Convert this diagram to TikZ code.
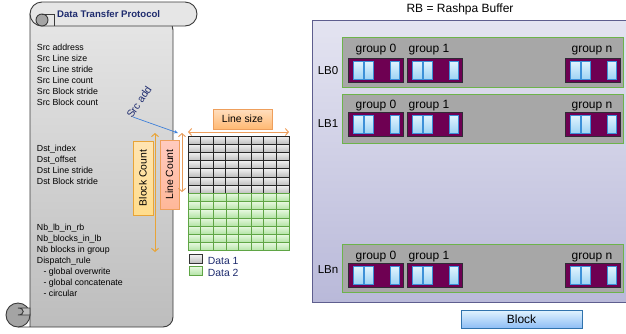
\documentclass[tikz,border=0pt]{standalone}
\usepackage{fontspec}
\setmainfont{Liberation Sans}
\usetikzlibrary{arrows.meta}

\definecolor{navy}{HTML}{1E2B6E}
\definecolor{scrollTop}{HTML}{E6E6E6}
\definecolor{scrollBot}{HTML}{BDBDBD}
\definecolor{scrollEdge}{HTML}{3A3A3A}
\definecolor{curlFill}{HTML}{A4A4A4}
\definecolor{sizeOrange}{HTML}{EE9F5C}
\definecolor{countOrange}{HTML}{E8A437}
\definecolor{srcBlue}{HTML}{3D7FD8}
\definecolor{rbTop}{HTML}{E4E4F1}
\definecolor{rbBot}{HTML}{B9B9D9}
\definecolor{rbEdge}{HTML}{5E5E8E}
\definecolor{lbFill}{HTML}{A7A7A7}
\definecolor{lbEdge}{HTML}{6DB34B}
\definecolor{grpFill}{HTML}{6E0052}
\definecolor{grpEdge}{HTML}{302A36}
\definecolor{cellEdge}{HTML}{3C90D8}
\definecolor{cellTop}{HTML}{E2F4FE}
\definecolor{cellBot}{HTML}{9ED3F4}
\definecolor{greyTop}{HTML}{F0F0F0}
\definecolor{greyBot}{HTML}{BEBEBE}
\definecolor{greenTop}{HTML}{E6F8DF}
\definecolor{greenBot}{HTML}{B2E3A4}
\definecolor{greenEdge}{HTML}{5FA545}

\newcommand\fsz[1]{\fontsize{#1}{#1}\selectfont}

\tikzset{
  item/.style={anchor=base west, inner sep=0pt, font=\fsz{8.8}},
  tagbox/.style={draw, inner sep=0pt, font=\fsz{10.4}},
  grouplbl/.style={anchor=base, inner sep=0pt, font=\fsz{12}},
  lblbl/.style={anchor=center, inner sep=0pt, font=\fsz{11.5}},
  scrollline/.style={draw=scrollEdge, line width=0.9pt},
  dimarrow/.style={{Straight Barb[length=3pt,width=7pt]}-{Straight Barb[length=3pt,width=7pt]}, line width=1pt},
}

\begin{document}
\begin{tikzpicture}[x=1pt,y=-1pt]
\useasboundingbox (0,0) rectangle (626,333);

% ---------------- scroll ----------------
% body sheet
\path[scrollline, top color=scrollTop, bottom color=scrollBot]
  (30,14) -- (30,327) -- (18,327) [rounded corners=10] -- (173,327) -- (173,20) [sharp corners] -- cycle;
% top roll
\path[scrollline, fill=scrollTop, rounded corners=12]
  (30,2) rectangle (197,26);
% top curl: small inner disc and the spiral line
\path[scrollline, fill=curlFill] (42,20) circle[radius=6];
\draw[scrollline] (42,14) -- (54,14) -- (54,26);
% bottom roll with its curl
\path[scrollline, fill=curlFill] (18,315) circle[radius=12];
\path[scrollline, fill=scrollBot] (18,308) .. controls (25,308) and (25,315) .. (18,315) -- (30,315) -- (30,308) -- cycle;

\node[anchor=base west, inner sep=0pt, font=\bfseries\fsz{9.6}, text=navy] (title) at (57,17.5) {Data Transfer Protocol};

% source parameters
\node[item] (s1) at (36.7,50.5) {Src address};
\node[item] (s2) at (36.7,61.5) {Src Line size};
\node[item] (s3) at (36.7,72.5) {Src Line stride};
\node[item] (s4) at (36.7,83.5) {Src Line count};
\node[item] (s5) at (36.7,94.5) {Src Block stride};
\node[item] (s6) at (36.7,105.5) {Src Block count};
% destination parameters
\node[item] (d1) at (36.7,151.7) {Dst\_index};
\node[item] (d2) at (36.7,162.7) {Dst\_offset};
\node[item] (d3) at (36.7,173.7) {Dst Line stride};
\node[item] (d4) at (36.7,184.6) {Dst Block stride};
% buffer layout parameters
\node[item] (n1) at (36.7,230.7) {Nb\_lb\_in\_rb};
\node[item] (n2) at (36.7,241.7) {Nb\_blocks\_in\_lb};
\node[item] (n3) at (36.7,252.6) {Nb blocks in group};
\node[item] (n4) at (36.7,263.6) {Dispatch\_rule};
\node[item] (r1) at (43.3,274.6) {- global overwrite};
\node[item] (r2) at (43.3,285.6) {- global concatenate};
\node[item] (r3) at (43.3,296.6) {- circular};

% ---------------- data grid ----------------
\foreach \c in {0,...,7} {
  \foreach \r in {0,...,6} {
    \path[top color=greyTop, bottom color=greyBot] ({188+\c*12.625},{136+\r*8.2}) rectangle +(12.625,8.2);
    \path[top color=greenTop, bottom color=greenBot] ({188+\c*12.625},{193.4+\r*8.2}) rectangle +(12.625,8.2);
  }
}
\foreach \c in {1,...,7}
  \draw[greenEdge, line width=0.7pt] ({188+\c*12.625},193.4) -- ({188+\c*12.625},250.8);
\foreach \r in {1,...,6}
  \draw[greenEdge, line width=0.7pt] (188,{193.4+\r*8.2}) -- (289,{193.4+\r*8.2});
\draw[greenEdge, line width=0.9pt] (188,193.4) rectangle (289,250.8);
\foreach \c in {1,...,7}
  \draw[black!85, line width=0.8pt] ({188+\c*12.625},136) -- ({188+\c*12.625},193.4);
\foreach \r in {1,...,6}
  \draw[black!85, line width=0.8pt] (188,{136+\r*8.2}) -- (289,{136+\r*8.2});
\draw[black!85, line width=0.9pt] (188,193.4) -- (188,136) -- (289,136) -- (289,193.4);
\node[inner sep=0pt, minimum width=101pt, minimum height=114.8pt, anchor=north west] (grid) at (188,136) {};

% legend
\node[draw=black!80, line width=0.8pt, top color=greyTop, bottom color=greyBot, minimum width=13pt, minimum height=8.5pt, inner sep=0pt] (k1) at (195.5,259) {};
\node[draw=greenEdge, line width=0.8pt, top color=greenTop, bottom color=greenBot, minimum width=13pt, minimum height=8.5pt, inner sep=0pt] (k2) at (195.5,271) {};
\node[anchor=base west, inner sep=0pt, font=\fsz{10.4}, text=navy] (k1t) at (207.7,264.3) {Data 1};
\node[anchor=base west, inner sep=0pt, font=\fsz{10.4}, text=navy] (k2t) at (207.7,276.3) {Data 2};

% ---------------- dimensions ----------------
\coordinate (lsL) at (188,132);
\coordinate (lsR) at (289,132);
\draw[dimarrow, sizeOrange] (lsL) -- (lsR);
\node[tagbox, draw=sizeOrange, top color=orange!25, bottom color=orange!55!white, minimum width=59pt, minimum height=20pt] (linesize) at (242.5,119) {Line size};

\node[tagbox, draw=countOrange, top color=yellow!30!orange!30, bottom color=yellow!40!orange!45, minimum width=74pt, minimum height=20pt, rotate=90] (blockcount) at (143,178) {Block Count};
\coordinate (bcT) at (155,133);
\coordinate (bcB) at (155,252);
\draw[dimarrow, countOrange] (bcT) -- (bcB);

\node[tagbox, draw=sizeOrange, top color=orange!35!red!25, bottom color=orange!60!red!40, minimum width=69pt, minimum height=19pt, rotate=90] (linecount) at (169.5,174.5) {Line Count};
\coordinate (lcT) at (182,133);
\coordinate (lcB) at (182,192);
\draw[dimarrow, line width=0.9pt, sizeOrange!80!brown] (lcT) -- (lcB);

% source address pointer
\node[inner sep=0pt, font=\fsz{10.4}, text=navy, rotate=56] (srcadd) at (139,102) {Src add};
\coordinate (srcTail) at (133,117);
\coordinate (srcHead) at (178,133);
\draw[srcBlue, line width=0.7pt, -{Stealth[length=4pt,width=3.5pt]}] (srcTail) -- (srcHead);

% ---------------- Rashpa buffer ----------------
\node[anchor=base, inner sep=0pt, font=\fsz{12}] (rbtitle) at (460,12.5) {RB = Rashpa Buffer};
\path[draw=rbEdge, line width=0.9pt, top color=rbTop, bottom color=rbBot] (312,20) rectangle (632,302);
\node[inner sep=0pt, minimum width=320pt, minimum height=282pt, anchor=north west] (rb) at (312,20) {};

\foreach \lbl/\pt/\pb/\bt/\gb/\lc in {LB0/37/87/58/52.3/71, LB1/94/143/112/108/124, LBn/244/292/263/259/270} {
  \path[draw=lbEdge, line width=1pt, fill=lbFill] (342,\pt) rectangle (623,\pb);
  \node[lblbl] (lb-\lbl) at (328,\lc) {\lbl};
  \foreach \gx/\tx/\gn in {348/376/group 0, 407/429/group 1, 565/592/group n} {
    \node[grouplbl] (gl-\lbl-\gx) at (\tx,\gb) {\gn};
    \path[draw=grpEdge, line width=0.9pt, fill=grpFill] (\gx,\bt) rectangle ({\gx+55},{\bt+24});
    \foreach \cx/\cw in {5/10, 16/9.5, 42/9.5}
      \path[draw=cellEdge, line width=0.9pt, top color=cellTop, bottom color=cellBot]
        ({\gx+\cx},{\bt+3}) rectangle ({\gx+\cx+\cw},{\bt+21});
  }
}

% block legend
\node[draw=cellEdge!80!black, line width=0.8pt, top color=cellTop, bottom color=cellBot!90!blue,
      minimum width=121pt, minimum height=18pt, inner sep=0pt, font=\fsz{12}] (block) at (521.5,319) {Block};
\end{tikzpicture}
\end{document}
